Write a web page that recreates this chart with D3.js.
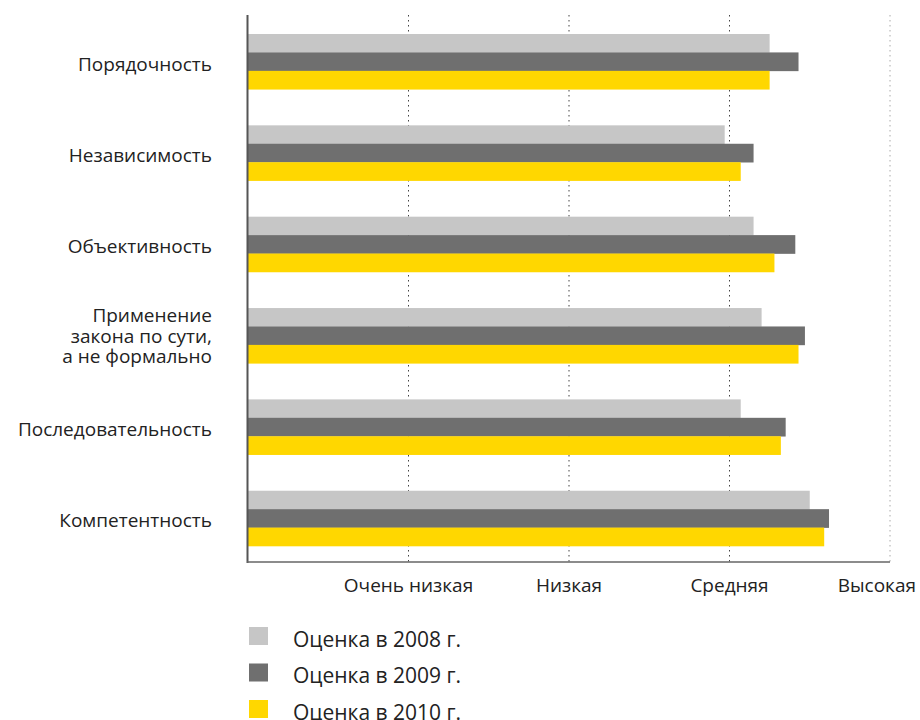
<!DOCTYPE html>
<html><head><meta charset="utf-8">
<script src="https://cdn.jsdelivr.net/npm/d3@7"></script>
<style>
html,body{margin:0;padding:0;background:#fff;}
svg text{font-family:"Open Sans","Noto Sans",sans-serif;fill:#222;}
</style></head>
<body><svg id="chart" width="920" height="720"></svg>
<script>
const categories = ["Порядочность","Независимость","Объективность","Применение\nзакона по сути,\nа не формально","Последовательность","Компетентность"];
const seriesNames = ["Оценка в 2008 г.","Оценка в 2009 г.","Оценка в 2010 г."];
const values2008 = [3.25, 2.97, 3.15, 3.20, 3.07, 3.50];
const values2009 = [3.43, 3.15, 3.41, 3.47, 3.35, 3.62];
const values2010 = [3.25, 3.07, 3.28, 3.43, 3.32, 3.59];
const tickValues = [1, 2, 3, 4];
const tickLabels = ["Очень низкая","Низкая","Средняя","Высокая"];
const colors = ["#c6c6c6","#6f6f6f","#ffd700"];

const series = [values2008, values2009, values2010];
const svg = d3.select("#chart");
const x = d3.scaleLinear().domain([0,4]).range([248, 890]);
const y = d3.scaleBand().domain(categories).range([16, 564]).paddingInner(0.395).paddingOuter(0.197);
const inner = d3.scaleBand().domain([0,1,2]).range([0, y.bandwidth()]);

// gridlines
svg.append("g").selectAll("line").data(tickValues).join("line")
  .attr("x1", d=>x(d)).attr("x2", d=>x(d)).attr("y1", 15).attr("y2", 562)
  .attr("stroke", (d,i)=> i===3 ? "#aaa" : "#444").attr("stroke-width",1)
  .attr("stroke-dasharray","1.5,3.5");

// bars
const g = svg.append("g");
categories.forEach((c,ci)=>{
  series.forEach((s,si)=>{
    g.append("rect").attr("x", x(0)).attr("y", y(c)+inner(si))
      .attr("width", x(s[ci])-x(0)).attr("height", inner.bandwidth()+0.3)
      .attr("fill", colors[si]);
  });
});

// axes lines
svg.append("line").attr("x1",247.5).attr("x2",247.5).attr("y1",15).attr("y2",563)
  .attr("stroke","#555").attr("stroke-width",2);
svg.append("line").attr("x1",247).attr("x2",890).attr("y1",562).attr("y2",562)
  .attr("stroke","#666").attr("stroke-width",1.5);

// tick labels
svg.append("g").selectAll("text").data(tickValues).join("text")
  .attr("x", (d,i)=> i===3 ? 916 : x(d))
  .attr("y", 592)
  .attr("text-anchor", (d,i)=> i===3 ? "end" : "middle")
  .attr("font-size", 19)
  .text((d,i)=>tickLabels[i]);

// category labels
categories.forEach(c=>{
  const lines = c.split("\n");
  const cy = y(c) + y.bandwidth()/2;
  const lh = 20.5;
  const t = svg.append("text").attr("text-anchor","end").attr("font-size",19);
  lines.forEach((l,i)=>{
    const off = lines.length > 1 ? 7 : 9;
    t.append("tspan").attr("x",212).attr("y", cy + off + (i-(lines.length-1)/2)*lh).text(l);
  });
});

// legend
const lg = svg.append("g");
seriesNames.forEach((n,i)=>{
  const yy = 627 + i*36.5;
  lg.append("rect").attr("x",249).attr("y",yy).attr("width",19).attr("height",18).attr("fill",colors[i]);
  lg.append("text").attr("x",293).attr("y",yy+19.5).attr("font-size",21).text(n);
});
</script></body></html>
